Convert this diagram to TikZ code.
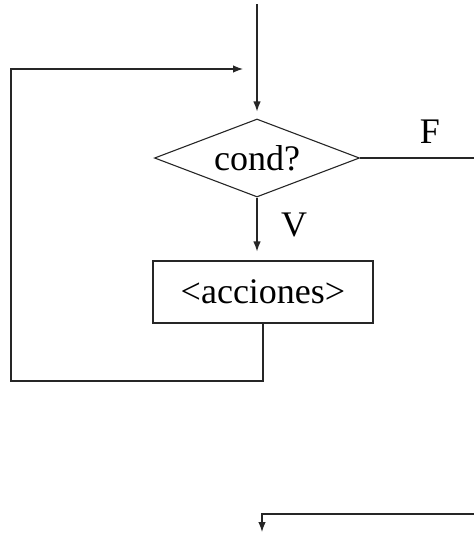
\documentclass[tikz,border=0pt]{standalone}
\usepackage{fontspec}
\setmainfont{Liberation Serif}
\usetikzlibrary{shapes.geometric,arrows.meta}
\begin{document}
\begin{tikzpicture}[x=1pt,y=-1pt,
  line/.style={line width=1.2pt, draw=black!85},
  arr/.style={line, -{Latex[length=10pt,width=7.5pt]}},
  lbl/.style={font=\fontsize{36}{40}\selectfont, inner sep=0pt},
  decision/.style={diamond, draw=black!85, line width=1.1pt, minimum width=205pt,
    minimum height=78pt, inner sep=0pt, shape aspect=2.6, lbl},
  process/.style={rectangle, draw=black!85, line width=1.1pt, minimum width=220pt,
    minimum height=62pt, inner sep=0pt, lbl}]
\useasboundingbox (0,0) rectangle (474,533);

% nodes of the loop
\node[decision] (cond) at (257,158) {cond?};
\node[process] (acc) at (263,292) {<acciones>};
\node[lbl] (f) at (430,132) {F};
\node[lbl] (v) at (294,225) {V};

% free ends and corners
\coordinate (start) at (257,4);
\coordinate (lb) at (11,381);
\coordinate (lt) at (11,69);
\coordinate (entry) at (243,69);
\coordinate (fout) at (474,158);
\coordinate (bin) at (474,514);
\coordinate (bcorner) at (262,514);
\coordinate (bout) at (262,532);

% connectors
\draw[arr, shorten >=7pt] (start) -- (cond.north);
\draw[arr, shorten >=9pt] (cond.south) -- (cond.south |- acc.north);
\draw[arr] (acc.south) |- (lb) -- (lt) -- (entry);
\draw[line] (cond.east) -- (fout);
\draw[arr] (bin) -- (bcorner) -- (bout);
\end{tikzpicture}
\end{document}
